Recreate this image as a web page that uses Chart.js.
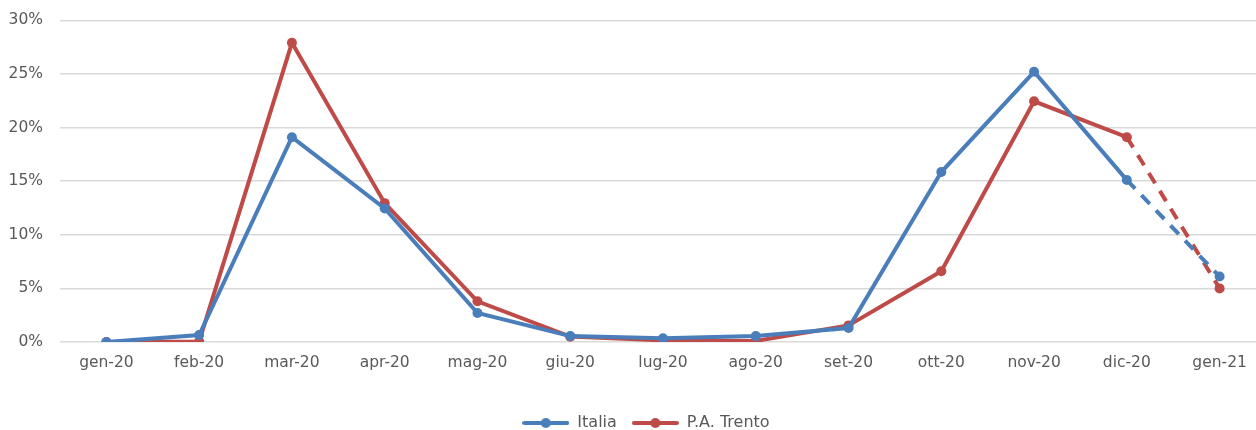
<!DOCTYPE html>
<html><head><meta charset="utf-8">
<script src="https://cdn.jsdelivr.net/npm/chart.js@4"></script>
<style>html,body{margin:0;padding:0;overflow:hidden;background:#fff;width:1256px;height:430px}
#wrap{position:absolute;left:0;top:-6px;width:1292px;height:447px}</style>
</head><body>
<div id="wrap"><canvas id="c" width="1292" height="447"></canvas></div>
<script>
const categories = ['gen-20','feb-20','mar-20','apr-20','mag-20','giu-20','lug-20','ago-20','set-20','ott-20','nov-20','dic-20','gen-21'];
const italia = [0, 0.65, 19.1, 12.45, 2.7, 0.55, 0.35, 0.55, 1.3, 15.85, 25.2, 15.1, 6.1];
const trento = [0, 0.05, 27.9, 12.95, 3.8, 0.5, 0.15, 0.1, 1.55, 6.6, 22.45, 19.1, 5.0];
const yTicks = [0, 5, 10, 15, 20, 25, 30];

const BLUE = '#4a7ebb', RED = '#be4b48';
function legendIcon(color){
  const cv = document.createElement('canvas'); cv.width = 47; cv.height = 12;
  const g = cv.getContext('2d');
  g.strokeStyle = color; g.lineWidth = 4; g.lineCap = 'round';
  g.beginPath(); g.moveTo(2,6); g.lineTo(45,6); g.stroke();
  g.fillStyle = color; g.beginPath(); g.arc(23.5,6,5,0,Math.PI*2); g.fill();
  return cv;
}
const dashLast = (ctx) => ctx.p1DataIndex === categories.length - 1 ? [12, 9] : undefined;
const FAM = "'DejaVu Sans', 'Open Sans', sans-serif";
const TICK_FONT = {family: FAM, size: 15.5};
const LEG_FONT = {family: FAM, size: 16};

const legendShift = {
  id: 'legendShift',
  afterInit(chart) {
    const lg = chart.legend;
    if (!lg) return;
    const orig = lg.draw.bind(lg);
    lg.draw = function(area) {
      const ctx = chart.ctx; ctx.save(); ctx.translate(13, 0); orig(area); ctx.restore();
    };
  }
};

new Chart(document.getElementById('c'), {
  type: 'line',
  data: {
    labels: categories,
    datasets: [
      {label: 'Italia', data: italia, borderColor: BLUE, backgroundColor: BLUE, borderWidth: 4,
       pointRadius: 5, pointHoverRadius: 5, pointBackgroundColor: BLUE, pointBorderWidth: 0, tension: 0,
       segment: {borderDash: dashLast}},
      {label: 'P.A. Trento', data: trento, borderColor: RED, backgroundColor: RED, borderWidth: 4,
       pointRadius: 5, pointHoverRadius: 5, pointBackgroundColor: RED, pointBorderWidth: 0, tension: 0,
       segment: {borderDash: dashLast}}
    ]
  },
  plugins: [legendShift],
  options: {
    responsive: false, animation: false, devicePixelRatio: 1,
    layout: {padding: {top: 8, right: 26, left: 0, bottom: 0}},
    plugins: {
      tooltip: {enabled: false},
      legend: {
        position: 'bottom',
        labels: {
          font: LEG_FONT, color: '#595959', usePointStyle: true, padding: 15, pointStyleWidth: 47, boxHeight: 12,
          generateLabels: (chart) => chart.data.datasets.map((d, i) => ({
            text: d.label, pointStyle: legendIcon(d.borderColor), fillStyle: d.borderColor,
            strokeStyle: d.borderColor, lineWidth: 0, hidden: false, datasetIndex: i, fontColor: '#595959'
          }))
        }
      }
    },
    scales: {
      x: {
        offset: true,
        grid: {display: false, drawTicks: false},
        border: {display: false},
        ticks: {font: TICK_FONT, color: '#595959', padding: 12, maxRotation: 0},
        afterFit: (s) => { s.height = 58; }
      },
      y: {
        min: 0, max: 30,
        afterBuildTicks: (s) => { s.ticks = yTicks.map(v => ({value: v})); },
        grid: {color: '#d9d9d9', lineWidth: 1.5, drawTicks: false},
        border: {display: false},
        ticks: {font: TICK_FONT, color: '#595959', padding: 17, callback: (v) => v + '%'},
        afterFit: (s) => { s.width = 60; }
      }
    }
  }
});
</script>
</body></html>
